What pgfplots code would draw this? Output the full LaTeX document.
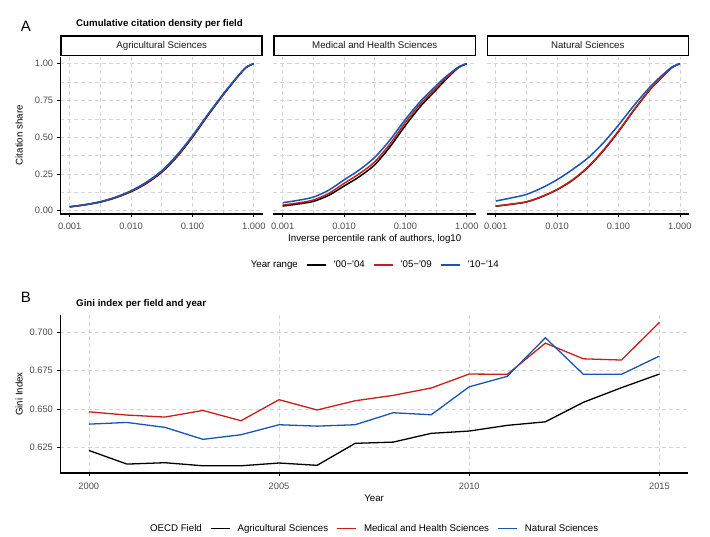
\documentclass[border=0pt]{standalone}
\usepackage{fontspec}
\setmainfont{Liberation Sans}
\usepackage{pgfplots}
\usepackage{pgfplotstable}
\pgfplotsset{compat=1.18}

\definecolor{fieldred}{RGB}{200,32,24}
\definecolor{fieldblue}{RGB}{24,86,178}
\definecolor{tickgrey}{RGB}{77,77,77}
\definecolor{gridgrey}{RGB}{212,212,212}
\newcommand\fs[1]{\fontsize{#1}{#1}\selectfont}

% cumulative citation share, one table per field
% columns: x, a = '00-'04, b = '05-'09, c = '10-'14
\pgfplotstableread{
x         a     b     c
0.001     0.026 0.027 0.028
0.0017783 0.040 0.041 0.042
0.0031623 0.059 0.061 0.062
0.0056234 0.089 0.091 0.093
0.01      0.130 0.133 0.136
0.017783  0.186 0.190 0.195
0.031623  0.262 0.266 0.272
0.056234  0.368 0.373 0.380
0.1       0.500 0.504 0.510
0.17783   0.647 0.651 0.655
0.31623   0.787 0.790 0.793
0.42170   0.853 0.856 0.858
0.56234   0.917 0.918 0.920
0.74989   0.974 0.975 0.975
1         1.000 1.000 1.000
}\agri
\pgfplotstableread{
x         a     b     c
0.001     0.032 0.039 0.055
0.0017783 0.046 0.053 0.071
0.0031623 0.064 0.073 0.093
0.0056234 0.105 0.118 0.140
0.01      0.168 0.186 0.210
0.017783  0.232 0.252 0.278
0.031623  0.313 0.333 0.363
0.056234  0.436 0.456 0.482
0.1       0.580 0.601 0.622
0.17783   0.712 0.729 0.746
0.31623   0.822 0.835 0.850
0.42170   0.878 0.888 0.900
0.56234   0.930 0.935 0.942
0.74989   0.976 0.978 0.980
1         1.000 1.000 1.000
}\medi
\pgfplotstableread{
x         a     b     c
0.001     0.031 0.032 0.066
0.0017783 0.044 0.045 0.087
0.0031623 0.060 0.061 0.111
0.0056234 0.095 0.097 0.155
0.01      0.143 0.145 0.211
0.017783  0.207 0.210 0.280
0.031623  0.294 0.297 0.358
0.056234  0.406 0.410 0.460
0.1       0.538 0.542 0.582
0.17783   0.682 0.685 0.714
0.31623   0.816 0.818 0.835
0.42170   0.872 0.874 0.888
0.56234   0.925 0.926 0.935
0.74989   0.974 0.975 0.978
1         1.000 1.000 1.000
}\natu

% Gini index per year
\pgfplotstableread{
year agri   medi   natu
2000 0.6230 0.6481 0.6401
2001 0.6141 0.6460 0.6412
2002 0.6150 0.6447 0.6380
2003 0.6130 0.6490 0.6302
2004 0.6130 0.6423 0.6332
2005 0.6148 0.6560 0.6397
2006 0.6133 0.6493 0.6388
2007 0.6276 0.6553 0.6397
2008 0.6284 0.6588 0.6475
2009 0.6341 0.6636 0.6462
2010 0.6356 0.6727 0.6644
2011 0.6393 0.6725 0.6712
2012 0.6416 0.6928 0.6963
2013 0.6543 0.6826 0.6725
2014 0.6638 0.6818 0.6725
2015 0.6727 0.7063 0.6844
}\gini

\pgfplotsset{
  ggbase/.style={
    scale only axis,
    axis x line*=bottom, axis y line*=left,
    axis line style={-, black, line width=1.1pt},
    tick align=outside, major tick length=3pt, minor tick length=0pt,
    tick style={black, line width=0.6pt},
    major grid style={gridgrey, line width=0.6pt, dash pattern=on 4pt off 3pt},
    minor grid style={gridgrey, line width=0.6pt, dash pattern=on 4pt off 3pt},
    ticklabel style={font=\fs{9.3}, text=tickgrey, inner sep=0pt},
    xticklabel style={anchor=north, yshift=-6.3pt},
    yticklabel style={anchor=east, xshift=-4.2pt},
    xlabel style={font=\fs{9.7}, text=black},
    ylabel style={font=\fs{9.7}, text=black},
    legend cell align=left,
  },
  ggfacet/.style={
    ggbase, width=202.5pt, height=157.5pt,
    xmin=0.000708, xmax=1.41254,
    ymin=-0.022, ymax=1.0487,
    xtick={0.001,0.01,0.1,1}, xticklabels={0.001,0.010,0.100,1.000},
    minor xtick={0.0031623,0.031623,0.31623},
    ytick={0,0.25,0.5,0.75,1}, yticklabels={0.00,0.25,0.50,0.75,1.00},
    minor ytick={0.125,0.375,0.625,0.875},
    grid=both,
    title style={at={(0.5,1)}, anchor=south, yshift=-5.5pt, draw=black,
      line width=1.5pt, fill=white, minimum width=201pt, minimum height=19.5pt,
      inner sep=0pt, font=\fs{9.7}, text=black!90},
  },
  gginner/.style={y axis line style={draw=none}, ytick style={draw=none}, yticklabels={}},
  ggline/.style={no marks, legend image code/.code={\draw[##1] (0pt,0pt) -- (19pt,0pt);}},
  ggcurve/.style={ggline, smooth, line width=1.5pt},
}

\begin{document}
\begin{tikzpicture}
\path[use as bounding box] (0,0) rectangle (710pt,-536pt);

\node[anchor=base west, font=\fs{15}] at (17.3pt,-31.7pt) {A};
\node[anchor=base west, font=\bfseries\fs{9.7}] at (72.7pt,-26pt) {Cumulative citation density per field};

\begin{axis}[xmode=log, ggfacet, at={(60.5pt,-56.5pt)}, anchor=north west,
  title={Agricultural Sciences},
  ylabel={Citation share},
  ylabel style={at={(axis description cs:0,0.5)}, anchor=base, yshift=37.8pt}]
\addplot[ggcurve, black] table[x=x, y=a] {\agri};
\addplot[ggcurve, fieldred] table[x=x, y=b] {\agri};
\addplot[ggcurve, fieldblue] table[x=x, y=c] {\agri};
\end{axis}

\begin{axis}[xmode=log, ggfacet, gginner, at={(273.5pt,-56.5pt)}, anchor=north west,
  title={Medical and Health Sciences},
  xlabel={Inverse percentile rank of authors, log10},
  xlabel style={at={(axis description cs:0.5,0)}, anchor=base, yshift=-27pt},
  legend columns=-1,
  legend style={at={(0.5,0)}, anchor=center, yshift=-51pt, xshift=-3.5pt,
    font=\fs{9.7}, draw=none, fill=none, inner sep=0pt, nodes={inner sep=0pt},
    /tikz/every even column/.append style={column sep=8.5pt},
    /tikz/every odd column/.append style={column sep=7pt}}]
\addlegendimage{empty legend}
\addlegendentry{Year range}
\addplot[ggcurve, black] table[x=x, y=a] {\medi};
\addlegendentry{\textquotesingle 00\textminus\textquotesingle 04}
\addplot[ggcurve, fieldred] table[x=x, y=b] {\medi};
\addlegendentry{\textquotesingle 05\textminus\textquotesingle 09}
\addplot[ggcurve, fieldblue] table[x=x, y=c] {\medi};
\addlegendentry{\textquotesingle 10\textminus\textquotesingle 14}
\end{axis}

\begin{axis}[xmode=log, ggfacet, gginner, at={(486.5pt,-56.5pt)}, anchor=north west,
  title={Natural Sciences}]
\addplot[ggcurve, black] table[x=x, y=a] {\natu};
\addplot[ggcurve, fieldred] table[x=x, y=b] {\natu};
\addplot[ggcurve, fieldblue] table[x=x, y=c] {\natu};
\end{axis}

\node[anchor=base west, font=\fs{15}] at (17.3pt,-302.7pt) {B};
\node[anchor=base west, font=\bfseries\fs{9.7}] at (72.7pt,-306.3pt) {Gini index per field and year};

\begin{axis}[ggbase, width=627.7pt, height=158pt, at={(60.3pt,-315pt)}, anchor=north west,
  xmin=1999.25, xmax=2015.75, ymin=0.6083, ymax=0.7111,
  xtick={2000,2005,2010,2015}, xticklabels={2000,2005,2010,2015},
  ytick={0.625,0.65,0.675,0.7}, yticklabels={0.625,0.650,0.675,0.700},
  grid=major,
  xlabel={Year},
  xlabel style={at={(axis description cs:0.5,0)}, anchor=base, yshift=-28pt},
  ylabel={Gini Index},
  ylabel style={at={(axis description cs:0,0.5)}, anchor=base, yshift=37.6pt},
  legend columns=-1,
  legend style={at={(0.5,0)}, anchor=center, yshift=-55.5pt, xshift=-3.5pt,
    font=\fs{9.7}, draw=none, fill=none, inner sep=0pt, nodes={inner sep=0pt},
    /tikz/every even column/.append style={column sep=8.5pt},
    /tikz/every odd column/.append style={column sep=7pt}}]
\addlegendimage{empty legend}
\addlegendentry{OECD Field}
\addplot[ggline, black, line width=1.3pt] table[x=year, y=agri] {\gini};
\addlegendentry{Agricultural Sciences}
\addplot[ggline, fieldred, line width=1.3pt] table[x=year, y=medi] {\gini};
\addlegendentry{Medical and Health Sciences}
\addplot[ggline, fieldblue, line width=1.3pt] table[x=year, y=natu] {\gini};
\addlegendentry{Natural Sciences}
\end{axis}
\end{tikzpicture}
\end{document}
